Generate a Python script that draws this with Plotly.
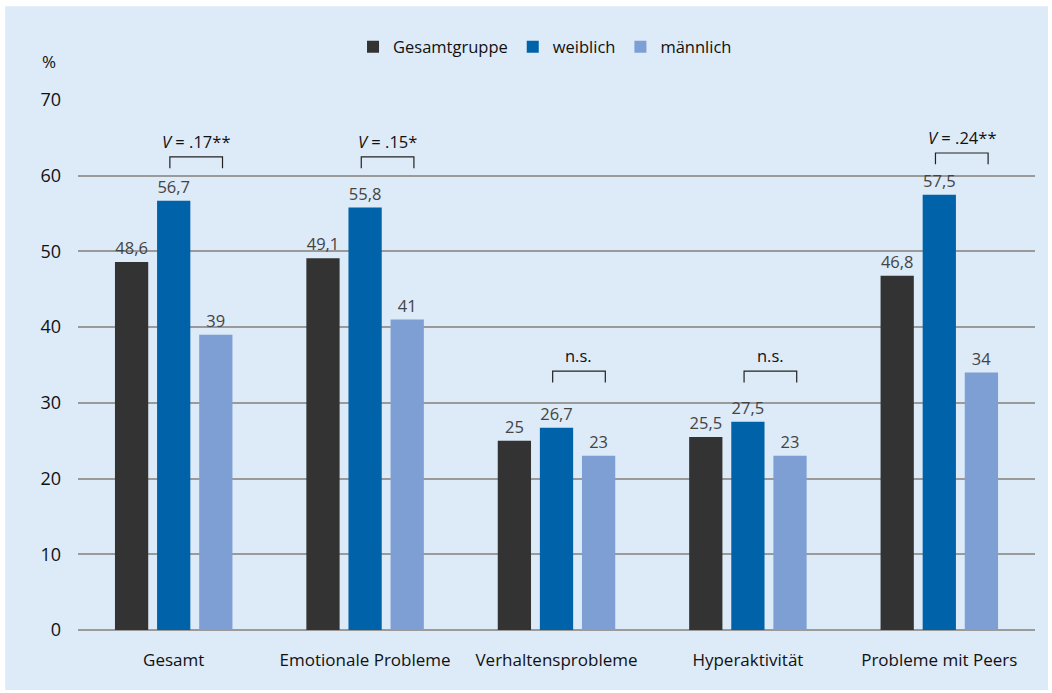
import plotly.graph_objects as go

categories = ["Gesamt", "Emotionale Probleme", "Verhaltensprobleme", "Hyperaktivität", "Probleme mit Peers"]
gesamtgruppe = [48.6, 49.1, 25, 25.5, 46.8]
weiblich = [56.7, 55.8, 26.7, 27.5, 57.5]
maennlich = [39, 41, 23, 23, 34]
labels_g = ["48,6", "49,1", "25", "25,5", "46,8"]
labels_w = ["56,7", "55,8", "26,7", "27,5", "57,5"]
labels_m = ["39", "41", "23", "23", "34"]
sig_labels = ["<i>V</i> = .17**", "<i>V</i> = .15*", "n.s.", "n.s.", "<i>V</i> = .24**"]
bracket_y = [62.5, 62.5, 34.2, 34.2, 63.0]
ytick_vals = [0, 10, 20, 30, 40, 50, 60, 70]

FONT = "Open Sans"
series = [
    ("Gesamtgruppe", gesamtgruppe, labels_g, "#333333"),
    ("weiblich", weiblich, labels_w, "#0063AA"),
    ("männlich", maennlich, labels_m, "#7E9FD4"),
]

fig = go.Figure()
for name, vals, labs, col in series:
    fig.add_trace(go.Bar(
        x=categories, y=vals, name=name, marker_color=col, marker_line_width=0,
        text=labs, textposition="outside", cliponaxis=False,
        textfont=dict(family=FONT, size=16.5, color="#444444"),
    ))

shapes = [dict(type="rect", xref="paper", yref="paper", x0=-0.076, x1=1.0136, y0=-0.113, y1=1.177,
               fillcolor="#DDEAF7", line_width=0, layer="below")]
annotations = []
off_m = 0.22
for i, (lab, by) in enumerate(zip(sig_labels, bracket_y)):
    x0 = i - 0.02
    x1 = i + off_m + 0.035
    shapes.append(dict(type="path", xref="x", yref="y",
                       path=f"M {x0},{by-1.5} L {x0},{by} L {x1},{by} L {x1},{by-1.5}",
                       line=dict(color="#222222", width=1.2)))
    annotations.append(dict(x=(x0 + x1) / 2, y=by + 0.3, xref="x", yref="y", text=lab,
                            showarrow=False, yanchor="bottom",
                            font=dict(family=FONT, size=16.5, color="#111111")))

annotations.append(dict(x=-0.03, y=1.072, xref="paper", yref="paper", text="%", showarrow=False,
                        xanchor="center", yanchor="middle",
                        font=dict(family=FONT, size=17, color="#111111")))

fig.update_layout(
    width=1052, height=693,
    margin=dict(l=78, r=17, t=100, b=63, autoexpand=False),
    paper_bgcolor="white", plot_bgcolor="rgba(0,0,0,0)",
    barmode="group", bargap=0.34, bargroupgap=0.21,
    showlegend=True,
    legend=dict(orientation="h", x=0.488, y=0.932, xanchor="center", yanchor="middle",
                yref="container",
                font=dict(family=FONT, size=16.5, color="#111111"), bgcolor="rgba(0,0,0,0)",
                itemwidth=30, traceorder="normal"),
    shapes=shapes, annotations=annotations,
    font=dict(family=FONT),
)
fig.update_xaxes(showgrid=False, ticks="", ticklabelstandoff=18,
                 tickfont=dict(family=FONT, size=17, color="#111111"),
                 showline=False, range=[-0.5, 4.5])
fig.update_yaxes(range=[0, 70], tickvals=ytick_vals, showgrid=True, gridcolor="#9A9A9A", gridwidth=1.5,
                 zeroline=True, zerolinecolor="#9A9A9A", zerolinewidth=1.5,
                 ticks="", ticklabelstandoff=16, tickfont=dict(family=FONT, size=18, color="#111111"))

fig.write_html("out.html")
